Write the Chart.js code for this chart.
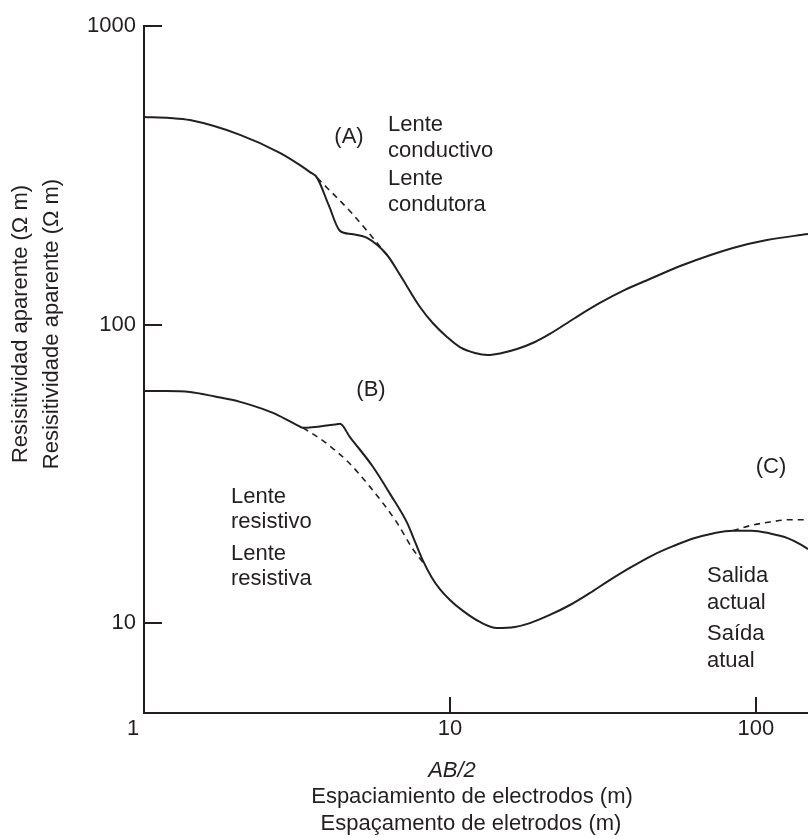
<!DOCTYPE html>
<html>
<head>
<meta charset="utf-8">
<title>Sondeo electrico - lentes</title>
<script src="https://cdn.jsdelivr.net/npm/chart.js@4.4.1/dist/chart.umd.min.js"></script>
<style>
  html, body { margin: 0; padding: 0; background: #fff; }
  #wrap { position: relative; width: 808px; height: 838px; }
</style>
</head>
<body>
<div id="wrap"><canvas id="sev"></canvas></div>
<script>
// AB/2 (m) and apparent resistivity (ohm m)

// (A) conductive lens: solid curve and undisturbed (dashed) curve
const xA = [1, 1.216, 1.413, 2.06, 2.78, 3.235, 3.487, 3.68, 4.01, 4.37, 4.78, 5.36, 6.23, 6.87, 7.98, 8.80,
            9.78, 10.78, 12.07, 13.31, 14.79, 16.56, 18.96, 21.2, 25.62, 30.9, 37.3, 45.0, 57.7, 84.1, 108.6, 148];
const yA = [496, 492, 484, 432, 376, 342, 324, 310, 252, 206, 201, 195, 171, 146.6, 114.5, 101,
            90.9, 84, 80.3, 79.1, 80.3, 82.8, 87.4, 93.0, 105.2, 118.1, 130.6, 142.1, 158.3, 180.5, 192, 201];
const xAdash = [3.68, 4.78, 6.23];
const yAdash = [310, 236, 171];

// (B) resistive lens and (C) current exit, on the lower curve
const xB = [1, 1.171, 1.413, 1.706, 2.06, 2.358, 2.64, 3.0, 3.186, 3.31, 4.21, 4.37, 4.71, 5.60, 6.37, 7.24,
            7.69, 8.16, 8.73, 9.27, 10, 11.03, 12.53, 14.24, 16.31, 18.25, 21.2, 24.67, 28.68, 32.6, 38.7, 46.1,
            53.6, 62.3, 72.4, 84.1, 97.0, 111.1, 126.3, 139.3, 148];
const yB = [59.9, 59.9, 59.5, 57.4, 55.1, 52.8, 50.6, 47.4, 45.9, 45.1, 46.3, 46.5, 42.0, 33.4, 27.1, 21.7,
            18.7, 16.2, 14.2, 13.0, 11.96, 10.99, 10.09, 9.63, 9.71, 10.0, 10.65, 11.5, 12.62, 13.74, 15.3, 16.9,
            18.1, 19.2, 19.97, 20.4, 20.4, 19.97, 19.3, 18.4, 17.7];
const xBdash = [3.31, 3.90, 4.64, 5.48, 6.71, 7.51, 8.28];
const yBdash = [45.1, 40.4, 34.7, 28.6, 21.7, 17.9, 15.66];
const xCdash = [84.1, 95.6, 111.1, 129.2, 148];
const yCdash = [20.4, 21.2, 21.8, 22.2, 22.2];

const xTickLabels = [1, 10, 100];
const yTickLabels = [10, 100, 1000];

const INK = '#231f20';
const FAMILY = '"Liberation Sans", Arial, Helvetica, sans-serif';
const FONT_SIZE = 22;
const FONT = FONT_SIZE + 'px ' + FAMILY;

function pts(xs, ys) {
    return xs.map((x, i) => ({ x: x, y: ys[i] }));
}

function curve(xs, ys, dashed) {
    return {
        data: pts(xs, ys),
        borderColor: INK,
        borderWidth: dashed ? 1.6 : 2,
        borderDash: dashed ? [6, 5] : [],
        pointRadius: 0,
        fill: false,
        cubicInterpolationMode: 'monotone'
    };
}

// text blocks placed on the canvas (left x / baseline y)
const notes = [
    { t: '(A)', x: 349, y: 143, c: true },
    { t: 'Lente', x: 388, y: 131 },
    { t: 'conductivo', x: 388, y: 157 },
    { t: 'Lente', x: 388, y: 185 },
    { t: 'condutora', x: 388, y: 211 },
    { t: '(B)', x: 371, y: 396, c: true },
    { t: 'Lente', x: 231, y: 503 },
    { t: 'resistivo', x: 231, y: 528 },
    { t: 'Lente', x: 231, y: 560 },
    { t: 'resistiva', x: 231, y: 585 },
    { t: '(C)', x: 771, y: 473, c: true },
    { t: 'Salida', x: 707, y: 582 },
    { t: 'actual', x: 707, y: 609 },
    { t: 'Saída', x: 707, y: 640 },
    { t: 'atual', x: 707, y: 667 }
];

const overlay = {
    id: 'overlay',
    afterDraw(chart) {
        const { ctx, chartArea: area, scales: { x, y } } = chart;
        ctx.save();
        ctx.strokeStyle = INK;
        ctx.fillStyle = INK;
        ctx.lineWidth = 2;

        // inward tick marks
        ctx.beginPath();
        yTickLabels.forEach(v => {
            const py = Math.round(y.getPixelForValue(v));
            ctx.moveTo(area.left, py);
            ctx.lineTo(area.left + 18, py);
        });
        xTickLabels.slice(1).forEach(v => {
            const px = Math.round(x.getPixelForValue(v));
            ctx.moveTo(px, area.bottom);
            ctx.lineTo(px, area.bottom - 16);
        });
        ctx.stroke();

        // x tick labels (the "1" sits left of the corner)
        ctx.font = FONT;
        ctx.textAlign = 'center';
        ctx.textBaseline = 'middle';
        xTickLabels.forEach(v => {
            let px = x.getPixelForValue(v);
            if (v === 1) px -= 11;
            ctx.fillText(String(v), px, area.bottom + 16);
        });

        // x title
        ctx.textBaseline = 'alphabetic';
        ctx.font = 'italic ' + FONT;
        ctx.fillText('AB/2', 452, 777);
        ctx.font = FONT;
        ctx.fillText('Espaciamiento de electrodos (m)', 472, 803);
        ctx.fillText('Espaçamento de eletrodos (m)', 471, 830);

        // y title, two rotated lines
        ctx.save();
        ctx.translate(0, 324);
        ctx.rotate(-Math.PI / 2);
        ctx.fillText('Resisitividad aparente (Ω m)', 0, 27);
        ctx.fillText('Resisitividade aparente (Ω m)', 0, 58);
        ctx.restore();

        // annotations
        notes.forEach(n => {
            ctx.textAlign = n.c ? 'center' : 'left';
            ctx.fillText(n.t, n.x, n.y);
        });
        ctx.restore();
    }
};

Chart.defaults.font.family = FAMILY;
Chart.defaults.color = INK;

new Chart(document.getElementById('sev'), {
    type: 'line',
    data: {
        datasets: [
            curve(xA, yA, false),
            curve(xAdash, yAdash, true),
            curve(xB, yB, false),
            curve(xBdash, yBdash, true),
            curve(xCdash, yCdash, true)
        ]
    },
    options: {
        responsive: true,
        maintainAspectRatio: false,
        animation: false,
        layout: { padding: { top: 26, right: 0, left: 0, bottom: 0 } },
        plugins: { legend: { display: false }, tooltip: { enabled: false } },
        scales: {
            x: {
                type: 'logarithmic',
                min: 1,
                max: 148,
                afterFit: s => { s.height = 125; },
                border: { display: true, color: INK, width: 2 },
                grid: { display: false },
                ticks: { display: false }
            },
            y: {
                type: 'logarithmic',
                min: 5,
                max: 1000,
                afterFit: s => { s.width = 144; },
                border: { display: true, color: INK, width: 2 },
                grid: { display: false, drawTicks: false },
                ticks: {
                    autoSkip: false,
                    padding: 8,
                    color: INK,
                    font: { size: FONT_SIZE },
                    callback: v => yTickLabels.includes(v) ? String(v) : ''
                }
            }
        }
    },
    plugins: [overlay]
});
</script>
</body>
</html>
